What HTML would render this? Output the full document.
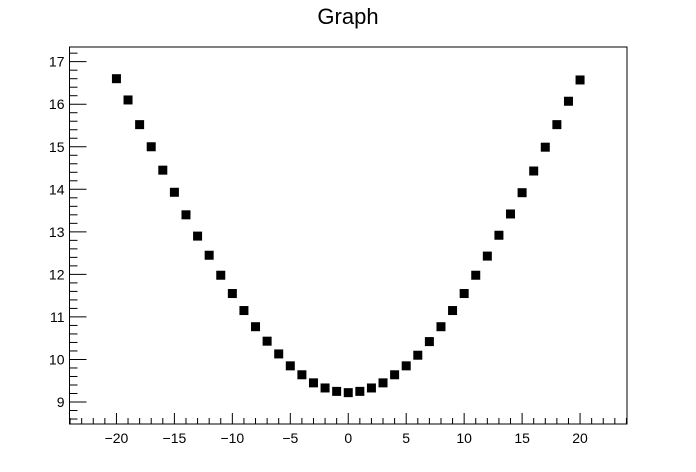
<!DOCTYPE html>
<html><head><meta charset="utf-8"><style>
html,body{margin:0;padding:0;background:#fff;width:696px;height:472px;overflow:hidden}
svg{display:block;font-family:"Liberation Sans",Arial,sans-serif}
</style></head><body>
<svg id="chart" width="696" height="472" xmlns="http://www.w3.org/2000/svg"></svg>
<script>
const xValues=[-20,-19,-18,-17,-16,-15,-14,-13,-12,-11,-10,-9,-8,-7,-6,-5,-4,-3,-2,-1,0,1,2,3,4,5,6,7,8,9,10,11,12,13,14,15,16,17,18,19,20];
const yValues=[16.6,16.1,15.52,15.0,14.45,13.93,13.4,12.9,12.45,11.98,11.55,11.15,10.77,10.43,10.13,9.85,9.64,9.45,9.33,9.25,9.22,9.25,9.33,9.45,9.64,9.85,10.1,10.42,10.77,11.15,11.55,11.98,12.43,12.92,13.42,13.92,14.43,14.99,15.52,16.07,16.57];
const xTickLabels=[-20,-15,-10,-5,0,5,10,15,20];
const yTickLabels=[9,10,11,12,13,14,15,16,17];
const NS="http://www.w3.org/2000/svg";
const svg=document.getElementById('chart');
const L=69.5,R=627,T=47,B=424;
const xMin=-24.05,xMax=24.05,yMin=8.483,yMax=17.345;
const sx=v=>L+(v-xMin)/(xMax-xMin)*(R-L);
const sy=v=>B-(v-yMin)/(yMax-yMin)*(B-T);
function mk(tag,attrs,parent){const e=document.createElementNS(NS,tag);for(const k in attrs)e.setAttribute(k,attrs[k]);(parent||svg).appendChild(e);return e;}
const title=mk('text',{x:348,y:24,'text-anchor':'middle','font-size':22});
title.textContent='Graph';


const frame=mk('rect',{x:L,y:T,width:R-L,height:B-T,fill:'none',stroke:'#000','stroke-width':1});


const xAxis=mk('g',{});


for(let v=-24;v<=24;v++){
  const major=v%5===0;const x=sx(v);
  mk('line',{x1:x,x2:x,y1:B,y2:B-(major?11:6),stroke:'#000','stroke-width':1},xAxis);
}
xTickLabels.forEach(v=>{
  const t=mk('text',{x:sx(v),y:B+19,'text-anchor':'middle','font-size':14},xAxis);
  t.textContent=v<0?'\u2212'+Math.abs(v):String(v);
  
  
});
const yAxis=mk('g',{});


for(let i=Math.ceil(yMin*5);i<=Math.floor(yMax*5);i++){
  const v=i/5;const major=i%5===0;const y=sy(v);
  mk('line',{x1:L,x2:L+(major?17:8),y1:y,y2:y,stroke:'#000','stroke-width':1},yAxis);
}
yTickLabels.forEach(v=>{
  const t=mk('text',{x:L-5,y:sy(v)+5,'text-anchor':'end','font-size':14},yAxis);
  t.textContent=String(v);
  
  
});
const pts=mk('g',{});


xValues.forEach((xv,i)=>{
  const r=mk('rect',{x:sx(xv)-4.5,y:sy(yValues[i])-4.5,width:9,height:9,fill:'#000'},pts);
  
  
});
</script>
</body></html>
